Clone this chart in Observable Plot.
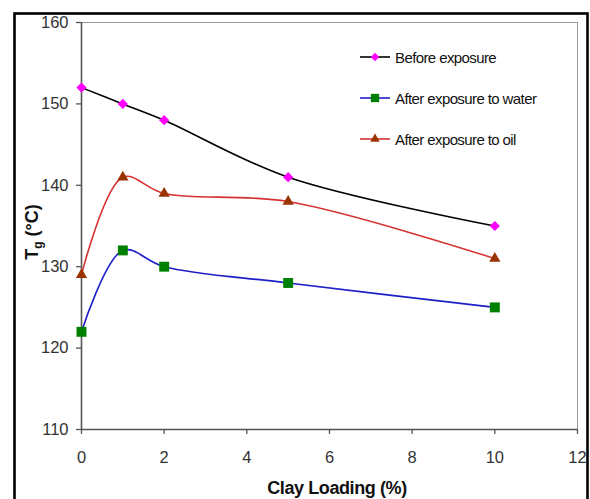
<!DOCTYPE html>
<html>
<head>
<meta charset="utf-8">
<script src="https://cdn.jsdelivr.net/npm/d3@7"></script>
<script src="https://cdn.jsdelivr.net/npm/@observablehq/plot@0.6"></script>
<style>
  html, body { margin: 0; padding: 0; background: #fff; }
  #chart { width: 590px; height: 499px; overflow: hidden; }
</style>
</head>
<body>
<div id="chart"></div>
<script>
const clayLoading = [0, 1, 2, 5, 10];
const seriesNames = ["Before exposure", "After exposure to water", "After exposure to oil"];
const beforeExposure = [152, 150, 148, 141, 135];
const afterWater = [122, 132, 130, 128, 125];
const afterOil = [129, 141, 139, 138, 131];
const xTicks = [0, 2, 4, 6, 8, 10, 12];
const yTicks = [110, 120, 130, 140, 150, 160];

const lineColors = ["#000000", "#1f1fc8", "#d63232"];
const markerColors = ["#ff00ff", "#008000", "#993300"];
const markerSymbols = ["diamond2", "square", "triangle"];
const markerR = [4.6, 5.6, 4.2];

const allValues = [beforeExposure, afterWater, afterOil];
const rows = [];
allValues.forEach((vals, s) => {
  vals.forEach((v, i) => rows.push({series: seriesNames[s], x: clayLoading[i], y: v}));
});

const FONT = "'Liberation Sans', Arial, sans-serif";

const marks = [
  Plot.frame({stroke: "#9a9a9a", strokeWidth: 1}),
  Plot.ruleX([0], {stroke: "#555", strokeWidth: 1.6}),
  Plot.ruleY([110], {stroke: "#555", strokeWidth: 1.6}),
  Plot.axisX({ticks: xTicks, tickSize: 5, tickPadding: 17, stroke: "#555", strokeWidth: 1.3, color: "#333", label: null, fontSize: 16.5}),
  Plot.axisY({ticks: yTicks, tickSize: 5, tickPadding: 8, stroke: "#555", strokeWidth: 1.3, color: "#333", label: null, fontSize: 16.5})
];
seriesNames.forEach((name, s) => {
  const data = rows.filter(d => d.series === name);
  marks.push(Plot.line(data, {x: "x", y: "y", stroke: lineColors[s], strokeWidth: 1.6, curve: "catmull-rom"}));
});
seriesNames.forEach((name, s) => {
  const data = rows.filter(d => d.series === name);
  marks.push(Plot.dot(data, {x: "x", y: "y", symbol: () => markerSymbols[s], fill: markerColors[s], stroke: "none", r: markerR[s]}));
});

const plot = Plot.plot({
  width: 590,
  height: 499,
  marginLeft: 81,
  marginRight: 13,
  marginTop: 22,
  marginBottom: 70,
  x: {domain: [0, 12]},
  y: {domain: [110, 160]},
  style: {fontFamily: FONT, background: "#fff", color: "#333"},
  marks
});
document.getElementById("chart").appendChild(plot);

const svg = d3.select(plot);
// enlarge all Plot-generated texts (tick labels)
svg.selectAll("text").style("font-size", "16.5px").style("font-family", FONT);

// outer border
svg.append("rect").attr("x", 14.5).attr("y", 13.5).attr("width", 573).attr("height", 520)
  .attr("fill", "none").attr("stroke", "#000").attr("stroke-width", 2.6);

// axis titles
svg.append("text").attr("x", 337).attr("y", 494).attr("text-anchor", "middle")
  .attr("font-family", FONT).attr("font-weight", "bold")
  .attr("font-size", 18).attr("letter-spacing", -0.4).attr("fill", "#111").text("Clay Loading (%)");

const yl = svg.append("text").attr("transform", "translate(38,232) rotate(-90)").attr("text-anchor", "middle")
  .attr("font-family", FONT).attr("font-weight", "bold")
  .attr("font-size", 18).attr("fill", "#111");
yl.append("tspan").text("T");
yl.append("tspan").attr("font-size", 12).attr("dy", 4).text("g");
yl.append("tspan").attr("dy", -4).text(" (°C)");

// legend
const legendY = [57, 98, 139];
const symMap = {diamond2: d3.symbolDiamond2, square: d3.symbolSquare, triangle: d3.symbolTriangle};
seriesNames.forEach((name, s) => {
  const g = svg.append("g").attr("transform", `translate(0,${legendY[s]})`);
  g.append("line").attr("x1", 360).attr("x2", 390).attr("y1", 0).attr("y2", 0)
    .attr("stroke", lineColors[s]).attr("stroke-width", 1.6);
  g.append("path").attr("transform", "translate(375,0)")
    .attr("d", d3.symbol(symMap[markerSymbols[s]], markerR[s] * markerR[s] * Math.PI * 0.7)())
    .attr("fill", markerColors[s]);
  g.append("text").attr("x", 395).attr("y", 5.5).attr("text-anchor", "start")
    .attr("font-family", FONT).attr("font-size", 15)
    .attr("letter-spacing", -0.6).attr("fill", "#111").text(name);
});
</script>
</body>
</html>
